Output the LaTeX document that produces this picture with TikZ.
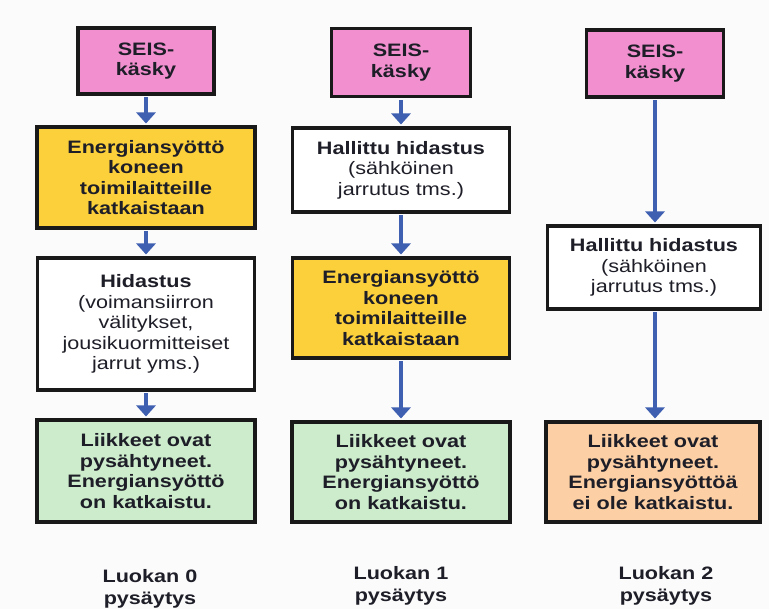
\documentclass[tikz,border=0pt]{standalone}
\usepackage{fontspec}
\setmainfont{Liberation Sans}[FakeStretch=1.2]
\usetikzlibrary{arrows.meta}
\definecolor{pinkbox}{HTML}{F290CF}
\definecolor{yellowbox}{HTML}{FCD03A}
\definecolor{greenbox}{HTML}{CDECCB}
\definecolor{peachbox}{HTML}{FCD0A4}
\definecolor{arrowblue}{HTML}{3F5FB0}
\definecolor{txt}{HTML}{1E1E28}
\definecolor{bg}{HTML}{FBFBFB}
\tikzset{
  box/.style={draw=black!90, line width=3.5pt, align=center, inner sep=2pt,
    text=txt, font=\fontsize{18}{20.5}\selectfont},
  pinkb/.style={box, fill=pinkbox, font=\fontsize{18}{20.5}\selectfont\bfseries},
  yellowb/.style={box, fill=yellowbox, font=\fontsize{18}{20.5}\selectfont\bfseries},
  greenb/.style={box, fill=greenbox, font=\fontsize{18}{20.5}\selectfont\bfseries},
  peachb/.style={box, fill=peachbox, font=\fontsize{18}{20.5}\selectfont\bfseries},
  whiteb/.style={box, fill=white},
  flow/.style={draw=arrowblue, line width=3.5pt, -{Triangle[width=19pt,length=11pt]},
    shorten <=1.75pt, shorten >=1.75pt},
  caption/.style={align=center, text=txt, font=\fontsize{18}{22}\selectfont\bfseries}
}
\begin{document}
\begin{tikzpicture}[x=1pt,y=-1pt]
\fill[bg] (0,0) rectangle (769,609);
\useasboundingbox (0,0) rectangle (769,609);
% column 1
\node[pinkb, minimum width=136pt, minimum height=66pt] (s1) at (146,61) {SEIS-\\käsky};
\node[yellowb, minimum width=218pt, minimum height=101pt] (e1) at (146,177.5) {Energiansyöttö\\koneen\\toimilaitteille\\katkaistaan};
\node[whiteb, minimum width=217pt, minimum height=132pt] (h1) at (146,324) {\textbf{Hidastus}\\(voimansiirron\\välitykset,\\jousikuormitteiset\\jarrut yms.)};
\node[greenb, minimum width=218pt, minimum height=102pt] (l1) at (146,471) {Liikkeet ovat\\pysähtyneet.\\Energiansyöttö\\on katkaistu.};
\node[caption] (c1) at (150,589) {Luokan 0\\pysäytys};
% column 2
\node[pinkb, minimum width=139pt, minimum height=68pt] (s2) at (401,62.5) {SEIS-\\käsky};
\node[whiteb, minimum width=217pt, minimum height=84pt] (h2) at (401,170) {\textbf{Hallittu hidastus}\\(sähköinen\\jarrutus tms.)};
\node[yellowb, minimum width=217pt, minimum height=100pt] (e2) at (401,308) {Energiansyöttö\\koneen\\toimilaitteille\\katkaistaan};
\node[greenb, minimum width=218pt, minimum height=100pt] (l2) at (401,472) {Liikkeet ovat\\pysähtyneet.\\Energiansyöttö\\on katkaistu.};
\node[caption] (c2) at (401,586) {Luokan 1\\pysäytys};
% column 3
\node[pinkb, minimum width=137pt, minimum height=67pt] (s3) at (655,63.5) {SEIS-\\käsky};
\node[whiteb, minimum width=213pt, minimum height=83pt] (h3) at (654,267.5) {\textbf{Hallittu hidastus}\\(sähköinen\\jarrutus tms.)};
\node[peachb, minimum width=214pt, minimum height=100pt] (l3) at (653,472) {Liikkeet ovat\\pysähtyneet.\\Energiansyöttöä\\ei ole katkaistu.};
\node[caption] (c3) at (666,586) {Luokan 2\\pysäytys};
% arrows
\draw[flow] (s1.south) -- (e1.north);
\draw[flow] (e1.south) -- (h1.north);
\draw[flow] (h1.south) -- (l1.north);
\draw[flow] (s2.south) -- (h2.north);
\draw[flow] (h2.south) -- (e2.north);
\draw[flow] (e2.south) -- (l2.north);
\draw[flow] (s3.south) -- (s3.south |- h3.north);
\draw[flow] (s3.south |- h3.south) -- (s3.south |- l3.north);
\end{tikzpicture}
\end{document}
